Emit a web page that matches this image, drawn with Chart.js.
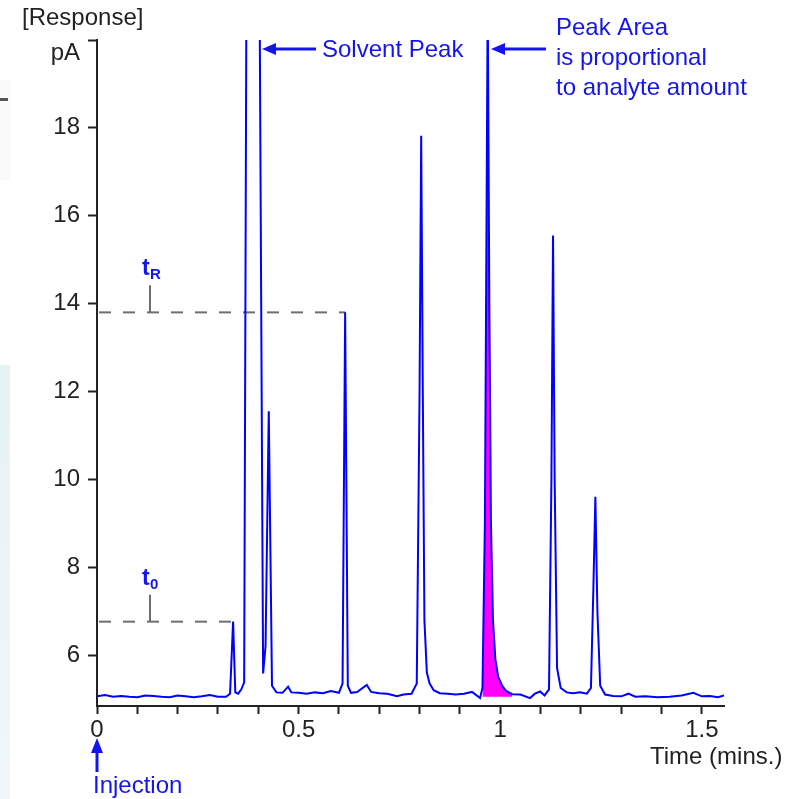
<!DOCTYPE html>
<html>
<head>
<meta charset="utf-8">
<script src="https://cdn.jsdelivr.net/npm/chart.js@4.4.1/dist/chart.umd.min.js"></script>
<style>
  html, body { margin: 0; padding: 0; background: #fff; }
  #wrap { position: relative; width: 786px; height: 799px; }
  .edge { position: absolute; left: 0; width: 10px; }
  canvas { position: absolute; left: 0; top: 0; }
</style>
</head>
<body>
<div id="wrap">
  <div class="edge" style="top:365px;height:434px;background:linear-gradient(#e6f2f4,#f1f7f8);"></div>
  <div class="edge" style="top:80px;height:100px;background:#f8fbfa;"></div>
  <div class="edge" style="top:98px;height:3px;width:8px;background:#555;"></div>
  <canvas id="chromatogram" width="786" height="799"></canvas>
</div>
<script>
// retention time (mins) and detector response (pA)
const times = [0.000, 0.020, 0.040, 0.060, 0.080, 0.100, 0.120, 0.140, 0.160, 0.180,
  0.200, 0.220, 0.240, 0.260, 0.280, 0.300, 0.320, 0.330, 0.3375, 0.343,
  0.350, 0.358, 0.365, 0.372, 0.401, 0.412, 0.418, 0.426, 0.434, 0.445,
  0.460, 0.474, 0.482, 0.500, 0.520, 0.540, 0.560, 0.580, 0.600, 0.609,
  0.6154, 0.622, 0.630, 0.645, 0.669, 0.680, 0.700, 0.720, 0.744, 0.760,
  0.780, 0.793, 0.800, 0.804, 0.808, 0.812, 0.818, 0.825, 0.835, 0.850,
  0.870, 0.890, 0.910, 0.930, 0.950, 0.956, 0.962, 0.969, 0.973, 0.977,
  0.982, 0.988, 0.995, 1.005, 1.015, 1.030, 1.050, 1.074, 1.086, 1.099,
  1.110, 1.121, 1.127, 1.131, 1.135, 1.141, 1.150, 1.165, 1.180, 1.198,
  1.215, 1.225, 1.231, 1.236, 1.241, 1.248, 1.260, 1.280, 1.300, 1.318,
  1.335, 1.360, 1.390, 1.420, 1.450, 1.479, 1.500, 1.520, 1.540, 1.555];
const response = [5.06, 5.09, 5.05, 5.07, 5.05, 5.04, 5.08, 5.07, 5.05, 5.04,
  5.08, 5.06, 5.04, 5.06, 5.09, 5.05, 5.05, 5.12, 6.76, 5.15,
  5.12, 5.22, 5.38, 25, 25, 5.58, 6.2, 11.55, 5.3, 5.15,
  5.14, 5.28, 5.15, 5.14, 5.12, 5.15, 5.13, 5.18, 5.14, 5.35,
  13.8, 5.3, 5.14, 5.16, 5.32, 5.16, 5.13, 5.12, 5.06, 5.10,
  5.12, 5.35, 12, 17.82, 12, 6.8, 5.6, 5.35, 5.2, 5.13,
  5.12, 5.10, 5.12, 5.16, 5.02, 5.25, 9, 21, 14, 9,
  6.8, 5.9, 5.5, 5.3, 5.18, 5.11, 5.10, 5.02, 5.12, 5.17,
  5.08, 5.22, 10, 15.55, 10, 5.7, 5.25, 5.15, 5.13, 5.15,
  5.12, 5.25, 7.5, 9.6, 7, 5.3, 5.1, 5.07, 5.06, 5.12,
  5.05, 5.06, 5.04, 5.05, 5.08, 5.14, 5.06, 5.07, 5.04, 5.08];

// shaded analyte peak (start, end, baseline)
const areaRange = [0.956, 1.030];
const areaBaseline = 5.05;

// dashed markers: [time, response, label, subscript]
const markers = [[0.3375, 6.76, 't', '0'], [0.6154, 13.8, 't', 'R']];

const xLabels = [0, 0.5, 1, 1.5];
const yLabels = [6, 8, 10, 12, 14, 16, 18];

const points = times.map((t, i) => ({ x: t, y: response[i] }));
const areaPoints = points.filter(p => p.x >= areaRange[0] && p.x <= areaRange[1]);

const FONT = '"Liberation Sans", Arial, sans-serif';
const BLUE = '#1414f0';

function arrowLeft(ctx, tipX, y, endX) {
  ctx.beginPath();
  ctx.moveTo(tipX + 10, y);
  ctx.lineTo(endX, y);
  ctx.stroke();
  ctx.beginPath();
  ctx.moveTo(tipX, y);
  ctx.lineTo(tipX + 14, y - 6);
  ctx.lineTo(tipX + 14, y + 6);
  ctx.closePath();
  ctx.fill();
}

const annotations = {
  id: 'annotations',
  beforeDatasetsDraw(chart) {
    const { ctx, chartArea, scales } = chart;
    ctx.save();
    ctx.strokeStyle = '#6e6e6e';
    ctx.lineWidth = 2;
    markers.forEach(m => {
      const px = scales.x.getPixelForValue(m[0]);
      const py = scales.y.getPixelForValue(m[1]);
      ctx.setLineDash([12, 12]);
      ctx.beginPath();
      ctx.moveTo(chartArea.left + 2, py);
      ctx.lineTo(px, py);
      ctx.stroke();
      ctx.setLineDash([]);
      ctx.beginPath();
      ctx.moveTo(chartArea.left + 53, py);
      ctx.lineTo(chartArea.left + 53, py - 27);
      ctx.stroke();
    });
    ctx.restore();
  },
  afterDraw(chart) {
    const { ctx, chartArea, scales } = chart;
    ctx.save();
    ctx.textBaseline = 'middle';

    // axis captions
    ctx.fillStyle = '#222';
    ctx.font = '24px ' + FONT;
    ctx.textAlign = 'left';
    ctx.fillText('[Response]', 22, 18);
    ctx.fillText('Time (mins.)', 650, 757);
    ctx.textAlign = 'right';
    ctx.fillText('pA', 80, 53);

    // blue notes
    ctx.fillStyle = BLUE;
    ctx.strokeStyle = BLUE;
    ctx.textAlign = 'left';
    ctx.fillText('Solvent Peak', 322, 50);
    ctx.fillText('Peak Area', 556, 28);
    ctx.fillText('is proportional', 556, 58);
    ctx.fillText('to analyte amount', 556, 88);
    ctx.fillText('Injection', 93, 786);

    ctx.lineWidth = 3;
    arrowLeft(ctx, 262, 49, 316);
    arrowLeft(ctx, 491, 49, 546);

    const ix = scales.x.getPixelForValue(0);
    ctx.beginPath();
    ctx.moveTo(ix, 752);
    ctx.lineTo(ix, 772);
    ctx.stroke();
    ctx.beginPath();
    ctx.moveTo(ix, 738);
    ctx.lineTo(ix - 6, 753);
    ctx.lineTo(ix + 6, 753);
    ctx.closePath();
    ctx.fill();

    // t0 / tR labels
    markers.forEach(m => {
      const py = scales.y.getPixelForValue(m[1]);
      ctx.textBaseline = 'alphabetic';
      ctx.font = 'bold 23px ' + FONT;
      ctx.fillText(m[2], chartArea.left + 45, py - 37);
      ctx.font = 'bold 15px ' + FONT;
      ctx.fillText(m[3], chartArea.left + 53, py - 33);
    });
    ctx.restore();
  }
};

new Chart(document.getElementById('chromatogram'), {
  type: 'line',
  data: {
    datasets: [{
      label: 'Response',
      data: points,
      borderColor: '#0000ff',
      borderWidth: 2,
      pointRadius: 0,
      tension: 0,
      fill: false,
      order: 0
    }, {
      label: 'Peak Area',
      data: areaPoints,
      borderColor: 'transparent',
      borderWidth: 0,
      backgroundColor: '#ff00ff',
      pointRadius: 0,
      tension: 0,
      fill: { value: areaBaseline },
      order: 1
    }]
  },
  options: {
    responsive: false,
    animation: false,
    layout: { padding: { top: 40, right: 62, left: 0, bottom: 0 } },
    plugins: { legend: { display: false }, tooltip: { enabled: false } },
    scales: {
      x: {
        type: 'linear',
        min: 0,
        max: 1.555,
        afterFit(s) { s.height = 93; },
        border: { color: '#222', width: 2 },
        grid: { drawOnChartArea: false, tickLength: 8, tickColor: '#222', tickWidth: 2 },
        ticks: {
          stepSize: 0.1,
          includeBounds: false,
          autoSkip: false,
          maxRotation: 0,
          padding: 2,
          color: '#222',
          font: { family: FONT, size: 24 },
          callback: v => xLabels.some(l => Math.abs(l - v) < 1e-6) ? String(Math.round(v * 10) / 10) : ''
        }
      },
      y: {
        min: 4.84,
        max: 20,
        afterFit(s) { s.width = 97; },
        border: { color: '#222', width: 2 },
        grid: { drawOnChartArea: false, tickLength: 9, tickColor: '#222', tickWidth: 2 },
        ticks: {
          stepSize: 2,
          includeBounds: false,
          padding: 8,
          color: '#222',
          font: { family: FONT, size: 24 },
          callback: v => yLabels.includes(v) ? String(v) : ''
        }
      }
    }
  },
  plugins: [annotations]
});
</script>
</body>
</html>
